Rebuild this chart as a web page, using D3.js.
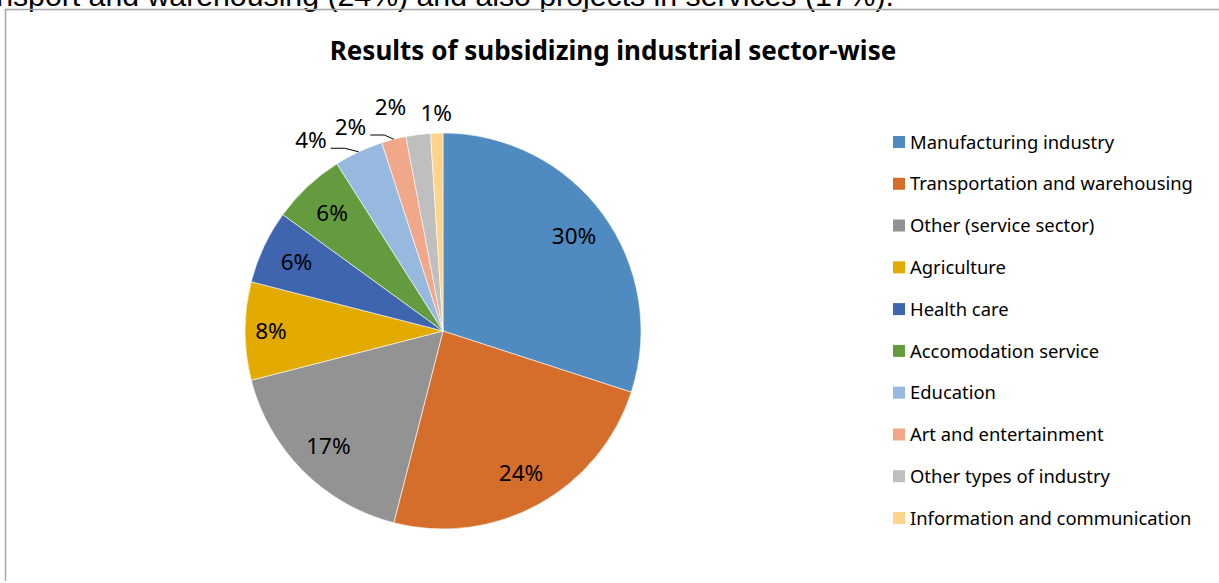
<!DOCTYPE html>
<html>
<head>
<meta charset="utf-8">
<script src="https://cdn.jsdelivr.net/npm/d3@7"></script>
<style>
	body { margin: 0; background: #fff; }
	svg { display: block; }
</style>
</head>
<body>
<div id="chart"></div>
<script>
// data
var sectors = ["Manufacturing industry", "Transportation and warehousing", "Other (service sector)",
	"Agriculture", "Health care", "Accomodation service", "Education",
	"Art and entertainment", "Other types of industry", "Information and communication"];
var shares = [30, 24, 17, 8, 6, 6, 4, 2, 2, 1];
var colours = ["#4f8bc0", "#d66e2b", "#939393", "#e3aa00", "#3f65ae",
	"#649b3e", "#97b9e0", "#f1a78a", "#bfbfbf", "#ffd38a"];

var W = 1219, H = 583;

window.onload = function() {
	main();
};

function main() {
	var svg = d3.select("#chart")
		.append("svg")
		.attr("width", W)
		.attr("height", H);

	draw_frame(svg);
	draw_pie(svg);
	draw_legend(svg);
}

function draw_frame(svg) {
	// tail of the paragraph above the chart, cut by the page top
	svg.append("text")
		.attr("x", 894)
		.attr("y", 6)
		.attr("text-anchor", "end")
		.style("font-family", "'Liberation Sans', Arial, sans-serif")
		.style("font-size", "30.25px")
		.style("fill", "#000")
		.text("transport and warehousing (24%) and also projects in services (17%).");

	svg.append("path")
		.attr("d", "M5.5,581 L5.5,9.5 L" + W + ",9.5")
		.attr("fill", "none")
		.attr("stroke", "#a6a6a6")
		.attr("stroke-width", 1.5);

	svg.append("text")
		.attr("x", 613)
		.attr("y", 60)
		.attr("text-anchor", "middle")
		.style("font-family", "'Noto Sans', sans-serif")
		.style("font-weight", "bold")
		.style("font-size", "26px")
		.style("fill", "#000")
		.text("Results of subsidizing industrial sector-wise");
}

function draw_pie(svg) {
	var cx = 443, cy = 331, r = 198;

	var pie = d3.pie()
		.sort(null)
		.value(function(d) { return d; });
	var arcs = pie(shares);

	var arc = d3.arc().innerRadius(0).outerRadius(r);

	var g = svg.append("g")
		.attr("transform", "translate(" + cx + "," + cy + ")");

	g.selectAll(".slice")
		.data(arcs)
		.enter()
		.append("path")
		.attr("class", "slice")
		.attr("d", arc)
		.attr("fill", function(d, i) { return colours[i]; })
		.attr("stroke", "#fff")
		.attr("stroke-width", 0.6);

	// small slices get their labels outside, nudged like excel's best fit
	var outside = {6: {shift: -9.5, rad: 232, leader: true},
		7: {shift: -10, rad: 224, leader: true},
		8: {shift: -6, rad: 230, leader: false},
		9: {shift: 0, rad: 218, leader: false}};

	function mid(d) { return (d.startAngle + d.endAngle) / 2; }

	arcs.forEach(function(d, i) {
		var a, rad, o = outside[i];
		if (o) {
			a = mid(d) + o.shift * Math.PI / 180;
			rad = o.rad;
		}
		else {
			a = mid(d);
			rad = (i == 3) ? 172 : 162;
		}
		var x = rad * Math.sin(a), y = -rad * Math.cos(a);

		var t = g.append("text")
			.attr("x", x)
			.attr("y", y)
			.attr("dy", "0.36em")
			.attr("text-anchor", "middle")
			.style("font-family", "'Noto Sans', sans-serif")
			.style("font-size", "22.5px")
			.style("fill", "#000")
			.text(shares[i] + "%");

		if (o && o.leader) {
			var bb = t.node().getBBox();
			var m = mid(d);
			var ex = r * Math.sin(m), ey = -r * Math.cos(m);
			var sx = bb.x + bb.width + 4, sy = y + 8;
			g.append("path")
				.attr("d", "M" + sx + "," + sy + " L" + (sx + 14) + "," + sy + " L" + ex + "," + ey)
				.attr("fill", "none")
				.attr("stroke", "#000")
				.attr("stroke-width", 1);
		}
	});
}

function draw_legend(svg) {
	var y = d3.scalePoint()
		.domain(sectors)
		.range([142, 518]);

	var rows = svg.append("g")
		.selectAll(".leg")
		.data(sectors)
		.enter()
		.append("g")
		.attr("class", "leg")
		.attr("transform", function(d) { return "translate(893," + y(d) + ")"; });

	rows.append("rect")
		.attr("x", 0)
		.attr("y", -6)
		.attr("width", 12)
		.attr("height", 12)
		.attr("fill", function(d, i) { return colours[i]; });

	rows.append("text")
		.attr("x", 17)
		.attr("dy", "0.36em")
		.style("font-family", "'Noto Sans', sans-serif")
		.style("font-size", "18.4px")
		.style("fill", "#000")
		.text(function(d) { return d; });
}
</script>
</body>
</html>
